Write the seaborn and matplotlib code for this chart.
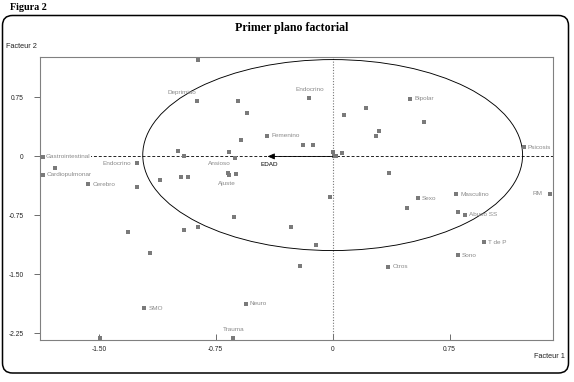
import matplotlib
matplotlib.use("Agg")
import matplotlib.pyplot as plt
import seaborn as sns
import pandas as pd
from matplotlib.patches import FancyBboxPatch, Ellipse

# ---------------- data ----------------
lab_names = ["Deprimido", "Femenino", "Endocrino", "Bipolar", "Psicosis", "Sexo",
             "Masculino", "RM", "Abuso SS", "T de P", "Sono", "Otros",
             "Gastrointestinal", "Cardiopulmonar", "Cerebro", "Endocrino",
             "Ansioso", "Ajuste", "SMO", "Neuro", "Trauma"]
lab_x = [-0.873, -0.419, -0.154, 0.499, 1.227, 0.546,
         0.794, 1.394, 0.846, 0.970, 0.801, 0.358,
         -1.860, -1.860, -1.567, -1.252,
         -0.625, -0.662, -1.207, -0.559, -0.642]
lab_y = [0.711, 0.261, 0.740, 0.731, 0.117, -0.531,
         -0.480, -0.477, -0.744, -1.094, -1.255, -1.405,
         -0.006, -0.235, -0.353, -0.090,
         -0.017, -0.239, -1.933, -1.875, -2.315]

other_x = [-0.864, -0.604, -0.548, -0.588, -0.193, -0.128, 0.215, 0.075, 0.587,
           0.294, 0.281, 0.000, 0.006, 0.022, 0.060, 0.362, 0.478, 0.801,
           -0.015, -0.207, -0.107, -0.265, -1.783, -1.252, -1.107, -0.989,
           -0.951, -0.972, -0.931, -0.663, -0.672, -0.620, -0.631, -1.310,
           -0.952, -0.864, -1.171, -1.494]
other_y = [1.223, 0.711, 0.549, 0.210, 0.151, 0.151, 0.622, 0.524, 0.444,
           0.320, 0.266, 0.057, 0.006, -0.001, 0.041, -0.210, -0.662, -0.713,
           -0.519, -1.400, -1.129, -0.896, -0.146, -0.383, -0.303, 0.075,
           -0.001, -0.256, -0.256, 0.062, -0.205, -0.226, -0.773, -0.964,
           -0.934, -0.900, -1.230, -2.315]

arrow_name = "EDAD"
arrow_x = -0.418
arrow_y = 0.0

x_ticks = [-1.50, -0.75, 0, 0.75]
x_ticklabels = ["-1.50", "-0.75", "0", "0.75"]
y_ticks = [0.75, 0, -0.75, -1.50, -2.25]
y_ticklabels = ["0.75", "0", "-0.75", "-1.50", "-2.25"]

# ---------------- style ----------------
# label placement (pixel offsets dx, dy, ha)
placement = [(-15, 8, "center"), (4, 0, "left"), (1, 9, "center"), (4, 0, "left"),
             (4, 0, "left"), (4, 0, "left"), (4, 0, "left"), (-8, 0, "right"),
             (4, 0, "left"), (4, 0, "left"), (4, 0, "left"), (4, 0, "left"),
             (3, 0, "left"), (4, 0, "left"), (4, 0, "left"), (-6, 0, "right"),
             (-16, -5.5, "center"), (-3, -8, "center"), (4, 0, "left"),
             (4, 0, "left"), (1, 9, "center")]

sns.set_theme(style="white")
plt.rcParams["font.family"] = ["Liberation Sans", "DejaVu Sans"]

W, H = 574, 382
fig = plt.figure(figsize=(W / 100, H / 100), dpi=100)
fig.patch.set_facecolor("white")

# background frame axes
bg = fig.add_axes([0, 0, 1, 1])
bg.set_xlim(0, W)
bg.set_ylim(H, 0)
bg.axis("off")
frame = FancyBboxPatch((2.5, 15.5), 566, 357.5,
                       boxstyle="round,pad=0,rounding_size=10",
                       fill=False, edgecolor="black", linewidth=1.1)
bg.add_patch(frame)
bg.text(10, 7, "Figura 2", fontsize=7.3, fontweight="bold",
        family="Liberation Serif", va="center", ha="left", color="black")
bg.text(292, 28, "Primer plano factorial", fontsize=8.6, fontweight="bold",
        family="Liberation Serif", va="center", ha="center", color="black")
bg.text(6, 47, "Facteur 2", fontsize=5.3, va="center", ha="left", color="#222222")
bg.text(565, 356, "Facteur 1", fontsize=5.3, va="center", ha="right", color="#222222")

# main axes
ax = fig.add_axes([40 / W, 1 - 340 / H, (553.3 - 40) / W, (340 - 57.3) / H])
ax.set_facecolor("white")
xmin, xmax = -1.877, 1.415
ymin, ymax = -2.336, 1.261

df_other = pd.DataFrame({"x": other_x, "y": other_y})
df_lab = pd.DataFrame({"x": lab_x, "y": lab_y, "name": lab_names})

ax.axhline(0, color="#222222", linestyle=(0, (3, 2)), linewidth=0.7, zorder=1)
ax.axvline(0, color="#777777", linestyle=(0, (1, 1.5)), linewidth=0.8, zorder=1)

circ = Ellipse((0, 0.017), 2.436, 2.43, fill=False, edgecolor="black",
               linewidth=0.65, zorder=2)
ax.add_patch(circ)

mk = dict(marker="s", s=5.5, color="#7a7a7a", linewidth=0, zorder=3, legend=False)
sns.scatterplot(data=df_other, x="x", y="y", ax=ax, **mk)
sns.scatterplot(data=df_lab, x="x", y="y", ax=ax, **mk)

for i, row in df_lab.iterrows():
    dx, dy, ha = placement[i]
    bbox = None
    if abs(row["y"]) < 0.03 and ha == "left":
        bbox = dict(boxstyle="square,pad=0.05", facecolor="white", edgecolor="none")
    ax.annotate(row["name"], (row["x"], row["y"]), xytext=(dx, dy),
                textcoords="offset pixels", ha=ha, va="center",
                fontsize=4.6, color="#8a8a8a", clip_on=True,
                annotation_clip=False, zorder=4, bbox=bbox)

ax.annotate("", xy=(arrow_x, arrow_y), xytext=(0, 0),
            arrowprops=dict(arrowstyle="-|>,head_length=0.35,head_width=0.15",
                            color="black", lw=0.6, shrinkA=0, shrinkB=0),
            zorder=5)
ax.annotate(arrow_name, (arrow_x, arrow_y), xytext=(2, -8),
            textcoords="offset pixels", ha="center", va="center",
            fontsize=4.6, color="black", zorder=5)

ax.set_xlim(xmin, xmax)
ax.set_ylim(ymin, ymax)
ax.set_xticks(x_ticks)
ax.set_xticklabels(x_ticklabels)
ax.set_yticks(y_ticks)
ax.set_yticklabels(y_ticklabels)
ax.set_xlabel("")
ax.set_ylabel("")
ax.tick_params(axis="x", direction="in", length=4, width=0.6, color="#555555",
               labelsize=4.8, labelcolor="#222222", pad=4, bottom=True)
ax.tick_params(axis="y", direction="out", length=4, width=0.6, color="#555555",
               labelsize=4.8, labelcolor="#222222", pad=8, left=True)
for sp in ax.spines.values():
    sp.set_visible(True)
    sp.set_color("#808080")
    sp.set_linewidth(0.8)
ax.grid(False)

fig.savefig("out.png", dpi=100, facecolor="white")
